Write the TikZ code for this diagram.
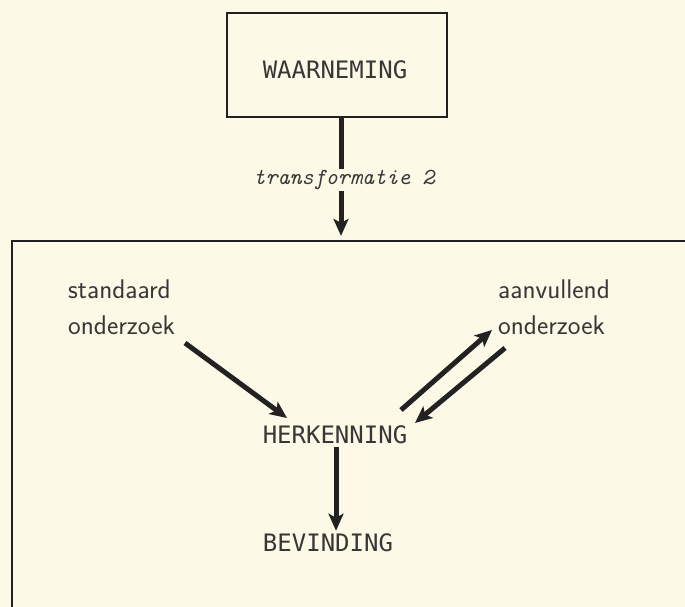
\documentclass[tikz,border=0pt]{standalone}
\usepackage{fontspec}
\newfontfamily\capsfont{DejaVu Sans Mono}
\usetikzlibrary{arrows.meta}
\definecolor{paper}{RGB}{252,250,230}
\definecolor{ink}{RGB}{34,34,34}
\definecolor{txt}{RGB}{55,55,55}
\tikzset{
  capstext/.style={font=\capsfont\fontsize{24}{30}\selectfont, text=txt, inner sep=3pt},
  lowtext/.style={font=\sffamily\fontsize{27}{36}\selectfont, text=txt, align=left, inner sep=0pt, anchor=north west},
  boxframe/.style={draw=ink, line width=2.2pt, rectangle, inner sep=0pt},
  arr/.style={draw=ink, line width=5pt, -{Stealth[length=17pt,width=15pt,inset=4pt]}},
  translabel/.style={font=\ttfamily\itshape\fontsize{23}{28}\selectfont, text=txt, fill=paper, inner sep=1pt}
}
\begin{document}
\begin{tikzpicture}[x=1pt,y=-1pt]
\useasboundingbox (0,0) rectangle (685,607);
\fill[paper] (0,0) rectangle (685,607);
% boxes
\node[boxframe, minimum width=220pt, minimum height=104pt] (obsbox) at (337,65) {};
\node[capstext] (obs) at (335,70) {WAARNEMING};
\node[boxframe, minimum width=690pt, minimum height=420pt] (bigbox) at (357,451) {};
% transformation arrow
\coordinate (tstart) at ([xshift=4pt]obsbox.south);
\coordinate (tend) at (tstart |- bigbox.north);
\draw[arr, shorten >=4pt] (tstart) -- (tend);
\node[translabel] (tlabel) at (344,180) {transformatie 2};
% inner nodes
\node[lowtext] (std) at (68,280) {standaard\\onderzoek};
\node[lowtext] (aanv) at (498,280) {aanvullend\\onderzoek};
\node[capstext] (herk) at (335,435) {HERKENNING};
\node[capstext] (bev) at (328,543) {BEVINDING};
% connectors
\draw[arr] ([shift={(117,63)}]std.north west) -- ([shift={(-48,-17)}]herk.center);
\draw[arr] ([shift={(66,-25)}]herk.center) -- ([shift={(-6,50)}]aanv.north west);
\draw[arr] ([shift={(7,68)}]aanv.north west) -- ([shift={(80,-12)}]herk.center);
\draw[arr] ([xshift=1pt]herk.south) -- ([xshift=1pt]herk.south |- bev.north);
\end{tikzpicture}
\end{document}
